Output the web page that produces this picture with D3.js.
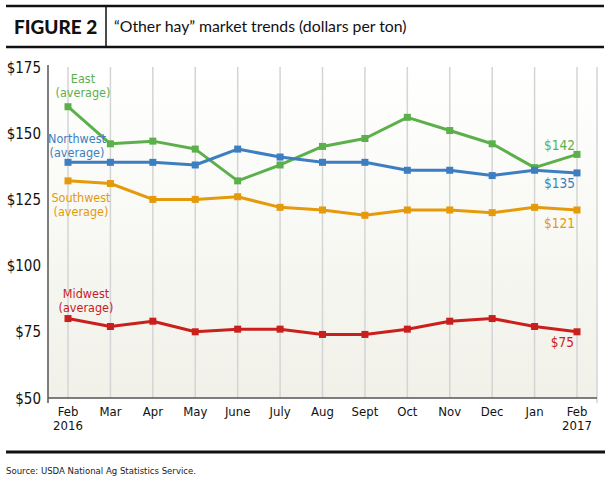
<!DOCTYPE html>
<html>
<head>
<meta charset="utf-8">
<script src="https://cdn.jsdelivr.net/npm/d3@7"></script>
<style>
  body { margin: 0; background: #fff; }
  svg { display: block; }
  .narrow { font-family: "Liberation Sans Narrow", "DejaVu Sans Condensed", "Liberation Sans", sans-serif; font-stretch: condensed; }
</style>
</head>
<body>
<script>
// chart data
var months = ["Feb", "Mar", "Apr", "May", "June", "July", "Aug", "Sept", "Oct", "Nov", "Dec", "Jan", "Feb"];
var years = {0: "2016", 12: "2017"};
var east = [160, 146, 147, 144, 132, 138, 145, 148, 156, 151, 146, 137, 142];
var northwest = [139, 139, 139, 138, 144, 141, 139, 139, 136, 136, 134, 136, 135];
var southwest = [132, 131, 125, 125, 126, 122, 121, 119, 121, 121, 120, 122, 121];
var midwest = [80, 77, 79, 75, 76, 76, 74, 74, 76, 79, 80, 77, 75];
var yTicks = [50, 75, 100, 125, 150, 175];

var series = [
  {name: "East", values: east, color: "#5cb04b", label: "$142", lx: 575, ly: 150},
  {name: "Northwest", values: northwest, color: "#3d7ec1", label: "$135", lx: 575, ly: 188},
  {name: "Southwest", values: southwest, color: "#e49a0b", label: "$121", lx: 575, ly: 228},
  {name: "Midwest", values: midwest, color: "#c9201d", label: "$75", lx: 574, ly: 347}
];
// name label positions (centre x, first baseline y)
var nameLabels = {
  East: [83, 83], Northwest: [77, 143], Southwest: [81, 202], Midwest: [86, 298]
};

const width = 610, height = 492;
var svg = d3.select("body").append("svg")
  .attr("width", width).attr("height", height);

// header
svg.append("line").attr("x1", 6).attr("x2", 604).attr("y1", 6).attr("y2", 6)
  .attr("stroke", "#111").attr("stroke-width", 2.5);
svg.append("line").attr("x1", 6).attr("x2", 604).attr("y1", 47).attr("y2", 47)
  .attr("stroke", "#111").attr("stroke-width", 2.5);
svg.append("line").attr("x1", 106).attr("x2", 106).attr("y1", 6).attr("y2", 47)
  .attr("stroke", "#111").attr("stroke-width", 1.5);
svg.append("text").attr("x", 14).attr("y", 34)
  .style("font-family", "Lato, 'Open Sans', sans-serif").style("font-weight", 900)
  .style("font-size", "19px").attr("fill", "#111").text("FIGURE 2");
svg.append("text").attr("x", 114).attr("y", 32)
  .style("font-family", "Lato, 'Open Sans', sans-serif")
  .style("font-size", "15.8px").attr("fill", "#111")
  .text("\u201COther hay\u201D market trends (dollars per ton)");

// plot
var plotLeft = 48, plotRight = 597, plotTop = 67, plotBottom = 398;
var x = d3.scalePoint().domain(d3.range(months.length)).range([68, 577]);
var y = d3.scaleLinear().domain([50, 175]).range([plotBottom, plotTop]);

var defs = svg.append("defs");
var grad = defs.append("linearGradient").attr("id", "bg")
  .attr("x1", 0).attr("x2", 0).attr("y1", 0).attr("y2", 1);
grad.append("stop").attr("offset", "0%").attr("stop-color", "#ffffff");
grad.append("stop").attr("offset", "100%").attr("stop-color", "#f1f1e9");
svg.append("rect").attr("x", plotLeft).attr("y", plotTop)
  .attr("width", plotRight - plotLeft).attr("height", plotBottom - plotTop).attr("fill", "url(#bg)");

// vertical grid
svg.selectAll(".vgrid").data(d3.range(months.length)).enter().append("line")
  .attr("class", "vgrid")
  .attr("x1", function(d){return x(d)}).attr("x2", function(d){return x(d)})
  .attr("y1", plotTop).attr("y2", plotBottom)
  .attr("stroke", "#d4d4d4").attr("stroke-width", 1.5);
svg.append("line").attr("x1", plotRight).attr("x2", plotRight).attr("y1", plotTop).attr("y2", plotBottom + 5)
  .attr("stroke", "#d4d4d4").attr("stroke-width", 1.5);

// axes
svg.append("line").attr("x1", plotLeft).attr("x2", plotLeft).attr("y1", plotTop - 2).attr("y2", plotBottom + 5)
  .attr("stroke", "#555").attr("stroke-width", 1.5);
svg.append("line").attr("x1", plotLeft).attr("x2", plotRight).attr("y1", plotBottom).attr("y2", plotBottom)
  .attr("stroke", "#555").attr("stroke-width", 1.5);

svg.selectAll(".ylab").data(yTicks).enter().append("text")
  .attr("class", "ylab narrow")
  .attr("x", 41).attr("y", function(d){return y(d) + 5.5})
  .attr("text-anchor", "end").style("font-size", "15px").attr("fill", "#111")
  .text(function(d){return "$" + d});

svg.selectAll(".xlab").data(months).enter().append("text")
  .attr("class", "xlab narrow")
  .attr("x", function(d, i){return x(i)}).attr("y", 416)
  .attr("text-anchor", "middle").style("font-size", "13px").attr("fill", "#111")
  .text(function(d){return d});
svg.selectAll(".ylabx").data(Object.keys(years)).enter().append("text")
  .attr("class", "ylabx narrow")
  .attr("x", function(d){return x(+d)}).attr("y", 430)
  .attr("text-anchor", "middle").style("font-size", "13px").attr("fill", "#111")
  .text(function(d){return years[d]});

// lines
var line = d3.line().x(function(d, i){return x(i)}).y(function(d){return y(d)});
var g = svg.selectAll(".series").data(series).enter().append("g").attr("class", "series");
g.append("path")
  .attr("d", function(d){return line(d.values)})
  .attr("fill", "none").attr("stroke", function(d){return d.color})
  .attr("stroke-width", 3).attr("stroke-linejoin", "round");
g.each(function(s) {
  d3.select(this).selectAll("rect").data(s.values).enter().append("rect")
    .attr("x", function(d, i){return x(i) - 3.5}).attr("y", function(d){return y(d) - 3.5})
    .attr("width", 7).attr("height", 7).attr("fill", s.color);
  var p = nameLabels[s.name];
  var t = d3.select(this).append("text").attr("class", "narrow")
    .attr("text-anchor", "middle").style("font-size", "12.5px").attr("fill", s.color);
  t.append("tspan").attr("x", p[0]).attr("y", p[1]).text(s.name);
  t.append("tspan").attr("x", p[0]).attr("y", p[1] + 14).text("(average)");
  d3.select(this).append("text").attr("class", "narrow")
    .attr("x", s.lx).attr("y", s.ly).attr("text-anchor", "end")
    .style("font-size", "13.5px").attr("fill", s.color).text(s.label);
});

// footer
svg.append("line").attr("x1", 6).attr("x2", 605).attr("y1", 452).attr("y2", 452)
  .attr("stroke", "#111").attr("stroke-width", 3);
svg.append("text").attr("class", "narrow").attr("x", 6).attr("y", 474)
  .style("font-size", "9.5px").attr("fill", "#222")
  .text("Source: USDA National Ag Statistics Service.");
</script>
</body>
</html>
